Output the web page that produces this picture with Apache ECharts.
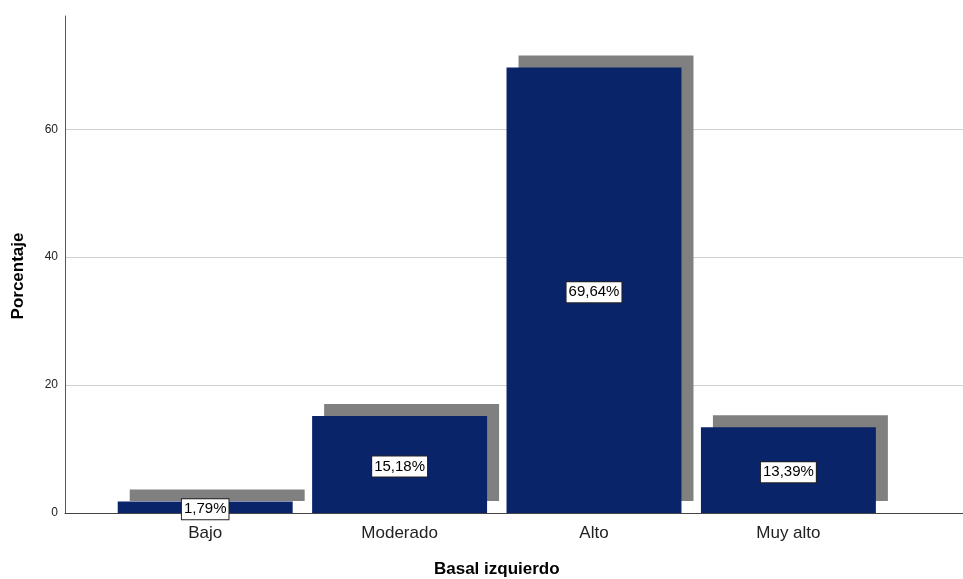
<!DOCTYPE html>
<html>
<head>
<meta charset="utf-8">
<script src="https://cdn.jsdelivr.net/npm/echarts@6/dist/echarts.min.js"></script>
<style>
  html, body { margin: 0; padding: 0; background: #fff; }
  #chart { width: 963px; height: 579px; }
</style>
</head>
<body>
<div id="chart"></div>
<script>
// Distribución porcentual por nivel (Basal izquierdo)
const categories = ['Bajo', 'Moderado', 'Alto', 'Muy alto'];
const percentages = [1.79, 15.18, 69.64, 13.39];
const yTicks = [0, 20, 40, 60];
const yMax = 77.7;

const FONT = 'Arial, "Liberation Sans", sans-serif';
const BAR_BLUE = '#0a246a';
const SHADOW_GREY = '#808080';

const fmtPct = v => v.toFixed(2).replace('.', ',') + '%';

const chart = echarts.init(document.getElementById('chart'), null, { renderer: 'canvas' });

const hiddenY = idx => ({
  type: 'value', gridIndex: idx, min: 0, max: yMax, interval: 20, show: false
});

chart.setOption({
  animation: false,
  backgroundColor: '#fff',
  textStyle: { fontFamily: FONT },
  grid: [
    // frame: axis lines and horizontal gridlines
    { left: 65, right: 0, top: 16, bottom: 66, outerBoundsMode: 'none', containLabel: false },
    // drop shadow behind each bar (shifted up and right)
    { left: 120, width: 777.6, top: 4, bottom: 78, outerBoundsMode: 'none', containLabel: false },
    // the bars themselves
    { left: 108, width: 777.6, top: 16, bottom: 66, outerBoundsMode: 'none', containLabel: false }
  ],
  xAxis: [
    {
      type: 'value', gridIndex: 0, min: 0, max: 1,
      axisLine: { show: true, lineStyle: { color: '#444', width: 1 } },
      axisTick: { show: false }, axisLabel: { show: false }, splitLine: { show: false }
    },
    { type: 'category', gridIndex: 1, data: categories, show: false },
    {
      type: 'category', gridIndex: 2, data: categories,
      axisLine: { show: false }, axisTick: { show: false },
      axisLabel: { fontSize: 17, color: '#222', margin: 12, fontFamily: FONT },
      name: 'Basal izquierdo', nameLocation: 'middle', nameGap: 48,
      nameTextStyle: { fontSize: 17, fontWeight: 'bold', color: '#000', fontFamily: FONT }
    }
  ],
  yAxis: [
    {
      type: 'value', gridIndex: 0, min: 0, max: yMax, interval: 20,
      axisLine: { show: true, lineStyle: { color: '#555', width: 1 } },
      axisTick: { show: false },
      axisLabel: {
        fontSize: 12, color: '#222', margin: 7, fontFamily: FONT,
        showMaxLabel: false,
        formatter: v => (yTicks.indexOf(v) >= 0 ? String(v) : '')
      },
      splitLine: { show: true, showMaxLine: false, lineStyle: { color: '#d0d0d0', width: 1 } }
    },
    hiddenY(1),
    hiddenY(2)
  ],
  graphic: [
    {
      type: 'text', x: 18, y: 276, rotation: Math.PI / 2,
      style: {
        text: 'Porcentaje', align: 'center', verticalAlign: 'middle',
        fontSize: 17, fontWeight: 'bold', fontFamily: FONT, fill: '#000'
      }
    }
  ],
  series: [
    {
      name: 'sombra', type: 'bar', xAxisIndex: 1, yAxisIndex: 1,
      data: percentages, barCategoryGap: '10%', z: 1,
      itemStyle: { color: SHADOW_GREY },
      silent: true
    },
    {
      name: 'Porcentaje', type: 'bar', xAxisIndex: 2, yAxisIndex: 2,
      data: percentages, barCategoryGap: '10%', z: 3,
      itemStyle: { color: BAR_BLUE },
      label: {
        show: true, position: 'inside', offset: [0, 2],
        formatter: p => fmtPct(p.value),
        fontSize: 15, color: '#000', fontFamily: FONT,
        backgroundColor: '#fff', borderColor: '#222', borderWidth: 1,
        padding: [3, 2, 2, 2]
      }
    }
  ]
});
</script>
</body>
</html>
